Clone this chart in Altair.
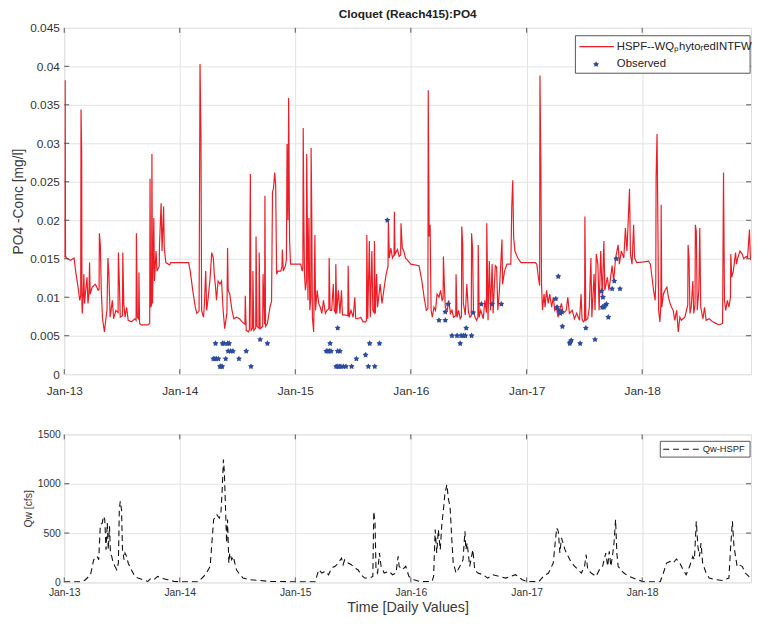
import altair as alt
import pandas as pd

# ---------------- data ----------------
# day offsets from 2013-01-01 and simulated PO4 (in 1e-3 mg/l)
po4_days = [0, 2, 3, 4, 10, 20, 31, 36, 45, 49, 52, 53, 55, 56, 57, 60, 62, 64, 68, 72, 75, 78, 80, 82, 88, 98, 104, 107, 110, 111, 114, 117, 121, 127, 131, 135, 138, 141, 145, 152, 156, 163, 170, 171, 174, 177, 184, 185, 188, 192, 197, 202, 212, 223, 227, 228, 231, 235, 236, 238, 244, 254, 264, 270, 271, 273, 276, 277, 279, 283, 285, 290, 293, 300, 301, 306, 309, 314, 316, 321, 333, 336, 350,
            365, 393, 398, 406, 414, 419, 426, 429, 432, 434, 440, 443, 447, 450, 455, 461, 466, 471, 474, 478, 481, 486, 492, 497, 502, 507, 514, 516, 518, 523, 530, 536, 544, 554, 562, 571, 572, 575, 582, 585, 586, 588, 590, 595, 596, 599, 605, 606, 609, 615, 616, 619, 627, 628, 633, 634, 636, 642, 650, 655, 658, 661, 665, 668, 671, 675, 684, 688, 689, 692, 699, 702, 704, 707, 709, 712, 715, 725,
            740, 747, 752, 754, 755, 757, 759, 762, 765, 766, 768, 770, 773, 776, 779, 780, 782, 784, 788, 792, 794, 799, 804, 809, 814, 819, 825, 830, 836, 837, 840, 845, 850, 853, 857, 858, 861, 866, 871, 876, 879, 887, 896, 897, 900, 906, 913, 918, 921, 928, 937, 944, 952, 955, 956, 959, 964, 967, 972, 975, 979, 980, 983, 987, 990, 998, 1004, 1011, 1017, 1023, 1024, 1027, 1032, 1037, 1042, 1043, 1045, 1053, 1058, 1063, 1064, 1068, 1073, 1078,
            1085, 1095, 1121, 1130, 1137, 1144, 1149, 1150, 1153, 1156, 1159, 1163, 1168, 1173, 1178, 1184, 1189, 1194, 1197, 1198, 1201, 1204, 1210, 1215, 1220, 1225, 1230, 1237, 1238, 1241, 1246, 1251, 1255, 1256, 1259, 1261, 1267, 1272, 1277, 1282, 1286, 1287, 1290, 1293, 1298, 1303, 1307, 1308, 1311, 1316, 1324, 1329, 1334, 1335, 1339, 1343, 1347, 1352, 1355, 1362, 1366, 1370, 1375, 1383, 1385, 1391, 1399, 1411, 1414, 1417, 1420, 1424, 1433, 1443,
            1460, 1488, 1493, 1498, 1502, 1503, 1506, 1508, 1511, 1516, 1519, 1524, 1529, 1534, 1540, 1545, 1550, 1555, 1560, 1565, 1571, 1576, 1586, 1591, 1596, 1605, 1612, 1619, 1628, 1633, 1636, 1640, 1644, 1645, 1648, 1654, 1659, 1664, 1667, 1674, 1677, 1681, 1686, 1690, 1695, 1700, 1705, 1708, 1716, 1721, 1731, 1736, 1742, 1750, 1754, 1760, 1768, 1773, 1778, 1786, 1789, 1794, 1799, 1802, 1809, 1830,
            1846, 1852, 1857, 1862, 1867, 1869, 1870, 1873, 1875, 1878, 1882, 1885, 1886, 1888, 1893, 1898, 1904, 1909, 1914, 1919, 1924, 1929, 1935, 1940, 1945, 1950, 1955, 1961, 1970, 1971, 1974, 1977, 1981, 1986, 1989, 1993, 1994, 1997, 2000, 2005, 2008, 2011, 2018, 2023, 2028, 2038, 2049, 2059, 2069, 2080, 2083, 2086, 2090, 2095, 2100, 2105, 2106, 2109, 2114, 2121, 2124, 2128, 2135, 2142, 2147, 2155, 2159, 2165, 2168, 2170]
po4_sim = [15.2, 15.3, 38.2, 15.3, 15.0, 14.8, 15.1, 13.4, 10.9, 9.6, 10.2, 34.4, 29.0, 9.0, 7.9, 10.5, 13.0, 9.2, 11.0, 12.6, 9.2, 10.5, 14.5, 10.4, 11.3, 11.7, 11.2, 10.9, 11.0, 18.3, 16.8, 10.9, 7.2, 5.5, 7.0, 8.3, 15.1, 13.0, 7.4, 9.6, 7.2, 8.3, 8.0, 15.8, 12.1, 7.4, 7.6, 15.8, 9.2, 7.4, 8.7, 7.0, 6.8, 7.2, 7.0, 18.3, 7.4, 7.2, 13.2, 6.6, 6.4, 6.4, 6.4, 6.6, 25.4, 8.7, 9.0, 28.6, 9.2, 20.3, 12.1, 16.0, 13.4, 14.0, 16.8, 22.2, 16.0, 21.8, 16.4, 14.5, 14.2, 14.5, 14.5,
           14.5, 14.5, 13.4, 10.9, 8.7, 7.9, 8.2, 40.3, 30.7, 8.3, 7.4, 9.2, 13.4, 8.3, 10.0, 12.6, 15.8, 15.1, 13.0, 11.3, 9.6, 12.1, 11.7, 12.1, 8.3, 5.9, 8.0, 16.4, 10.9, 10.4, 8.3, 7.2, 7.4, 7.2, 6.8, 6.5, 10.2, 5.7, 5.5, 5.8, 13.2, 26.0, 5.7, 6.0, 13.4, 5.7, 6.0, 17.9, 6.2, 6.0, 15.8, 5.9, 6.2, 13.0, 6.5, 23.2, 6.2, 6.6, 8.7, 9.5, 23.7, 24.1, 26.2, 24.5, 13.0, 13.4, 13.4, 14.0, 16.2, 13.4, 14.1, 15.0, 29.9, 20.0, 35.9, 17.3, 14.3, 14.3,
           14.3, 14.3, 13.4, 14.0, 32.0, 21.1, 13.0, 10.9, 12.0, 28.6, 20.3, 9.6, 20.3, 8.3, 10.0, 29.4, 21.1, 7.4, 5.5, 18.1, 8.3, 10.9, 9.2, 8.7, 7.9, 9.6, 7.9, 8.3, 8.5, 15.1, 8.3, 8.3, 11.7, 8.3, 8.0, 14.3, 7.9, 10.9, 7.9, 10.9, 7.7, 7.7, 7.6, 14.1, 7.4, 8.3, 7.4, 10.0, 7.2, 7.2, 7.4, 6.8, 6.8, 7.0, 18.1, 7.2, 17.3, 7.4, 16.0, 8.3, 8.0, 17.3, 7.9, 13.0, 8.7, 11.7, 9.2, 11.3, 13.0, 14.0, 20.0, 15.1, 16.4, 15.1, 15.5, 21.1, 15.6, 16.2, 15.3, 15.5, 19.6, 16.4, 16.0, 15.1,
           14.8, 14.3, 14.1, 12.1, 10.0, 8.3, 8.5, 36.9, 17.9, 19.4, 8.3, 7.4, 8.7, 8.3, 10.4, 10.0, 10.9, 9.6, 9.8, 15.3, 11.7, 8.7, 8.3, 9.6, 7.9, 8.3, 7.4, 7.6, 13.0, 7.4, 8.3, 7.2, 7.5, 19.2, 16.8, 9.2, 7.7, 11.7, 8.1, 7.4, 7.6, 18.3, 16.4, 8.3, 7.4, 7.0, 7.4, 16.8, 7.4, 8.3, 7.2, 9.6, 8.0, 19.6, 7.0, 14.7, 8.3, 14.3, 7.9, 14.1, 13.9, 8.3, 10.9, 17.5, 11.7, 13.4, 14.3, 14.3, 21.8, 25.2, 17.7, 16.0, 15.1, 14.5,
           14.5, 14.5, 14.3, 12.6, 11.5, 38.8, 26.7, 11.7, 8.3, 10.4, 8.7, 10.9, 9.2, 10.4, 8.7, 10.0, 8.3, 8.7, 7.4, 8.3, 9.2, 7.9, 8.3, 10.0, 7.9, 8.3, 7.2, 7.9, 7.0, 10.4, 7.2, 6.8, 7.0, 20.5, 7.0, 7.2, 8.7, 15.1, 7.4, 13.0, 8.3, 15.6, 14.3, 8.3, 16.0, 10.0, 17.3, 10.9, 12.6, 10.9, 14.1, 12.1, 15.1, 16.8, 14.3, 16.0, 15.1, 19.0, 16.0, 24.1, 15.6, 14.3, 19.4, 15.1, 14.5, 14.6,
           14.7, 14.3, 12.6, 10.9, 9.6, 12.0, 25.6, 31.2, 22.2, 8.3, 6.8, 9.0, 22.0, 8.7, 10.4, 10.9, 11.3, 10.0, 9.2, 8.7, 8.3, 7.0, 8.3, 5.5, 7.4, 7.0, 7.2, 7.4, 9.0, 16.8, 15.1, 7.9, 8.7, 12.1, 7.9, 9.0, 19.4, 18.6, 8.3, 10.9, 19.0, 8.7, 7.2, 8.7, 7.0, 7.2, 6.8, 6.6, 6.4, 6.6, 26.2, 9.6, 8.3, 9.6, 8.7, 10.0, 15.6, 12.6, 13.4, 15.8, 14.3, 15.1, 16.0, 15.6, 15.0, 15.3, 15.1, 18.8, 15.0, 14.8]

obs_days = [471, 476, 478, 481, 487, 492, 495, 499, 500, 505, 510, 516, 518, 521, 526, 533, 552, 575, 590, 619, 642,
            828, 833, 838, 840, 843, 859, 864, 864, 864, 869, 871, 874, 882, 890, 908, 923, 952, 961, 965, 981, 996, 1021,
            1184, 1204, 1204, 1213, 1225, 1241, 1251, 1254, 1261, 1267, 1270, 1287, 1292, 1318, 1352, 1381,
            1553, 1557, 1561, 1563, 1567, 1572, 1574, 1597, 1599, 1602, 1630, 1648, 1677, 1698, 1700, 1702, 1705, 1708, 1713, 1719, 1731, 1738, 1744, 1756]
obs_val = [2, 2, 4, 2, 2, 1, 1, 1, 4, 4, 2, 4, 3, 4, 3, 3, 2, 3, 1, 4.5, 4,
           3, 3, 3, 4, 3, 1, 6, 3, 1, 1, 3, 1, 1, 1, 1, 2, 2.5, 1, 4, 1, 4, 20,
           7, 7, 8.1, 9.1, 5, 5, 4, 5, 5, 5, 6, 5, 8, 9.1, 9.1, 9.1,
           9.8, 8.7, 12.7, 8.3, 7.9, 8.1, 6.2, 4.0, 4.2, 4.4, 4.0, 6.0, 4.5, 10.8, 8.7, 10.0, 8.7, 8.9, 9.1, 7.4, 11.1, 12.1, 15.0, 11.1]

qw_days = [0, 30, 57, 67, 83, 93, 104, 109, 114, 120, 124, 128, 132, 136, 139, 143, 146, 150, 155, 160, 166, 171, 174, 177, 181, 184, 189, 192, 197, 202, 207, 212, 223, 233, 249, 264, 275, 285, 295, 306, 327, 348, 363,
           425, 435, 446, 461, 472, 482, 490, 495, 499, 503, 506, 509, 513, 516, 520, 523, 529, 534, 539, 544, 555, 565, 586, 617, 648, 679, 710, 731,
           793, 804, 814, 824, 835, 845, 856, 866, 876, 881, 886, 897, 907, 918, 928, 938, 949, 964, 975, 978, 982, 985, 990, 996, 1001, 1011, 1027, 1037, 1048, 1055, 1058, 1068, 1079, 1089, 1105, 1126, 1162,
           1167, 1172, 1177, 1182, 1188, 1193, 1198, 1203, 1209, 1214, 1219, 1224, 1229, 1238, 1250, 1260, 1266, 1269, 1273, 1281, 1291, 1297, 1307, 1323, 1338, 1354, 1374, 1395, 1426, 1447,
           1462, 1499, 1514, 1530, 1545, 1551, 1556, 1561, 1566, 1571, 1576, 1582, 1592, 1603, 1613, 1623, 1634, 1644, 1649, 1654, 1665, 1680, 1691, 1701, 1711, 1717, 1722, 1727, 1732, 1737, 1742, 1746, 1750, 1758, 1768, 1784, 1810,
           1831, 1883, 1893, 1903, 1914, 1924, 1934, 1945, 1955, 1965, 1976, 1986, 1991, 1997, 2002, 2007, 2012, 2017, 2028, 2038, 2059, 2080, 2100, 2105, 2111, 2116, 2121, 2126, 2131, 2142, 2152, 2168]
qw_cfs = [7, 7, 7, 27, 78, 230, 264, 230, 586, 600, 670, 637, 332, 603, 332, 569, 298, 264, 196, 163, 129, 196, 738, 823, 738, 332, 230, 298, 264, 196, 163, 129, 61, 44, 27, 10, 44, 34, 61, 44, 27, 10, 7,
          7, 44, 78, 163, 637, 687, 653, 704, 941, 1246, 1111, 806, 400, 637, 196, 298, 230, 264, 196, 129, 78, 44, 27, 20, 10, 10, 7, 7,
          7, 129, 95, 112, 78, 146, 163, 196, 247, 180, 230, 196, 180, 146, 129, 78, 44, 44, 61, 721, 603, 129, 95, 298, 163, 95, 112, 78, 95, 264, 163, 129, 163, 61, 27, 7, 10,
          61, 535, 298, 535, 332, 586, 738, 907, 992, 840, 772, 467, 196, 95, 163, 230, 518, 332, 400, 163, 332, 129, 95, 78, 44, 78, 61, 44, 78, 27,
          10, 7, 61, 95, 196, 400, 552, 518, 298, 450, 400, 332, 264, 196, 163, 129, 95, 163, 281, 129, 95, 61, 129, 163, 298, 163, 315, 163, 264, 400, 637, 298, 163, 129, 95, 61, 27,
          7, 7, 95, 196, 213, 196, 237, 196, 129, 78, 163, 264, 230, 620, 366, 264, 400, 196, 95, 44, 27, 20, 44, 332, 620, 366, 264, 163, 180, 163, 95, 44]

tick_years = [2013, 2014, 2015, 2016, 2017, 2018]
po4_ticks = [0, 0.005, 0.01, 0.015, 0.02, 0.025, 0.03, 0.035, 0.04, 0.045]
qw_ticks = [0, 500, 1000, 1500]

title_text = "Cloquet (Reach415):PO4"
sim_label = "HSPF--WQ\u209ahyto\u1d63edINTFW"
obs_label = "Observed"
qw_label = "Qw-HSPF"

# ---------------- frames ----------------
start = pd.Timestamp("2013-01-01")


def to_dates(days):
    return [start + pd.Timedelta(days=d) for d in days]


po4_df = pd.DataFrame({"date": to_dates(po4_days), "po4": [v / 1000 for v in po4_sim]})
obs_df = pd.DataFrame({"date": to_dates(obs_days), "po4": [v / 1000 for v in obs_val]})
qw_df = pd.DataFrame({"date": to_dates(qw_days), "qw": qw_cfs})
xt_df = pd.DataFrame({"date": [pd.Timestamp(f"{y}-01-01") for y in tick_years]})
yt_po4 = pd.DataFrame({"po4": po4_ticks[1:-1]})
yt_qw = pd.DataFrame({"qw": qw_ticks[1:-1]})

RED = "#ee1d25"
BLUE = "#2d4c9f"
FONT = "Liberation Sans"
TXT = "#333333"
STAR = ("M0,-1L0.323,-0.445L0.951,-0.309L0.523,0.170L0.588,0.809L0,0.55"
        "L-0.588,0.809L-0.523,0.170L-0.951,-0.309L-0.323,-0.445Z")

W, H1, H2 = 696, 351, 150

xscale = alt.Scale(domain=[alt.DateTime(year=2013, month=1, date=1),
                           alt.DateTime(year=2018, month=12, date=11)], nice=False)
yscale_top = alt.Scale(domain=[0, 0.045], nice=False, zero=False)
yscale_bot = alt.Scale(domain=[0, 1500], nice=False)
xvals = [alt.DateTime(year=y, month=1, date=1) for y in tick_years]
one = alt.Data(values=[{}])


def xaxis(size, pad, title=None, tsize=14):
    kw = dict(values=xvals, format="%b-%y", labelFontSize=size, labelFont=FONT,
              labelColor=TXT, ticks=False, labelPadding=pad, domain=False,
              gridColor="#e3e3e3", labelFlush=False, labelOverlap=False)
    if title:
        kw.update(title=title, titleFontSize=tsize, titleFont=FONT, titleColor="#3a3a3a",
                  titleFontWeight="normal", titlePadding=3)
    else:
        kw.update(title=None)
    return alt.Axis(**kw)


xaxis_top = xaxis(12, 12)
xaxis_bot = xaxis(10.5, 5, "Time [Daily Values]", 14.5)
yaxis_top = alt.Axis(values=po4_ticks, format="~g", labelFontSize=12, labelFont=FONT,
                     labelColor=TXT, ticks=False, labelPadding=5, domain=False,
                     labelOverlap=False, labelFlush=False, tickCount=10,
                     gridColor="#e3e3e3", title="PO4 -Conc [mg/l]", titleFontSize=14,
                     titleFont=FONT, titleColor="#3a3a3a", titleFontWeight="normal",
                     titlePadding=4)
yaxis_bot = alt.Axis(values=qw_ticks, format="d", labelFontSize=10.5, labelFont=FONT,
                     labelColor=TXT, ticks=False, labelPadding=4, domain=False,
                     labelOverlap=False, labelFlush=False,
                     gridColor="#e3e3e3", title="Qw [cfs]", titleFontSize=10.5,
                     titleFont=FONT, titleColor="#3a3a3a", titleFontWeight="normal",
                     titlePadding=4)

XT = alt.X("date:T", scale=xscale, axis=xaxis_top)
YT = alt.Y("po4:Q", scale=yscale_top, axis=yaxis_top)
XB = alt.X("date:T", scale=xscale, axis=xaxis_bot)
YB = alt.Y("qw:Q", scale=yscale_bot, axis=yaxis_bot)

# ---------------- top panel ----------------
line = alt.Chart(po4_df).mark_line(color=RED, strokeWidth=1.2, clip=True).encode(x=XT, y=YT)
pts = alt.Chart(obs_df).mark_point(shape=STAR, filled=True, size=40, color=BLUE, opacity=1).encode(
    x=XT, y=YT)

xt_top = alt.Chart(xt_df).mark_rule(color="#555", strokeWidth=1).encode(
    x=XT, y=alt.value(0), y2=alt.value(5))
xt_bot = alt.Chart(xt_df).mark_rule(color="#555", strokeWidth=1).encode(
    x=XT, y=alt.value(H1 - 5), y2=alt.value(H1))
yt_l = alt.Chart(yt_po4).mark_rule(color="#555", strokeWidth=1).encode(
    y=YT, x=alt.value(0), x2=alt.value(5))
yt_r = alt.Chart(yt_po4).mark_rule(color="#555", strokeWidth=1).encode(
    y=YT, x=alt.value(W - 5), x2=alt.value(W))

title_mark = alt.Chart(one).mark_text(align="center", baseline="middle", fontSize=12, font=FONT,
                                      fontWeight="bold", color="#222").encode(
    x=alt.value(W / 2), y=alt.value(-14), text=alt.value(title_text))

leg_box = alt.Chart(one).mark_rect(fill="white", stroke="#555", strokeWidth=1).encode(
    x=alt.value(518), x2=alt.value(695), y=alt.value(8), y2=alt.value(46))
leg_line = alt.Chart(one).mark_rule(color=RED, strokeWidth=1.2).encode(
    x=alt.value(522), x2=alt.value(557), y=alt.value(19))
leg_t1 = alt.Chart(one).mark_text(align="left", baseline="middle", fontSize=11.5, font=FONT,
                                  color="#222").encode(
    x=alt.value(560), y=alt.value(19), text=alt.value(sim_label))
leg_pt = alt.Chart(one).mark_point(shape=STAR, filled=True, size=40, color=BLUE, opacity=1).encode(
    x=alt.value(539), y=alt.value(37))
leg_t2 = alt.Chart(one).mark_text(align="left", baseline="middle", fontSize=11.5, font=FONT,
                                  color="#222").encode(
    x=alt.value(560), y=alt.value(37), text=alt.value(obs_label))

top = alt.layer(line, pts, xt_top, xt_bot, yt_l, yt_r, title_mark,
                leg_box, leg_line, leg_t1, leg_pt, leg_t2).properties(width=W, height=H1)

# ---------------- bottom panel ----------------
qline = alt.Chart(qw_df).mark_line(color="#111", strokeWidth=1.1, strokeDash=[6, 4], clip=True).encode(
    x=XB, y=YB)
qxt_top = alt.Chart(xt_df).mark_rule(color="#555", strokeWidth=1).encode(
    x=XB, y=alt.value(0), y2=alt.value(5))
qxt_bot = alt.Chart(xt_df).mark_rule(color="#555", strokeWidth=1).encode(
    x=XB, y=alt.value(H2 - 5), y2=alt.value(H2))
qyt_l = alt.Chart(yt_qw).mark_rule(color="#555", strokeWidth=1).encode(
    y=YB, x=alt.value(0), x2=alt.value(5))
qyt_r = alt.Chart(yt_qw).mark_rule(color="#555", strokeWidth=1).encode(
    y=YB, x=alt.value(W - 5), x2=alt.value(W))
q_box = alt.Chart(one).mark_rect(fill="white", stroke="#555", strokeWidth=1).encode(
    x=alt.value(604), x2=alt.value(695), y=alt.value(7), y2=alt.value(23))
q_line = alt.Chart(one).mark_rule(color="#111", strokeWidth=1.1, strokeDash=[6, 4]).encode(
    x=alt.value(607), x2=alt.value(645), y=alt.value(15))
q_t = alt.Chart(one).mark_text(align="left", baseline="middle", fontSize=9.5, font=FONT,
                               color="#222").encode(
    x=alt.value(647), y=alt.value(15), text=alt.value(qw_label))

bottom = alt.layer(qline, qxt_top, qxt_bot, qyt_l, qyt_r, q_box, q_line, q_t).properties(
    width=W, height=H2)

chart = alt.vconcat(top, bottom, spacing=31).properties(
    padding={"left": 3, "top": -5, "right": 2, "bottom": 2}
).configure_view(stroke="#666", strokeWidth=1).configure(background="white")

chart.save("out.html", embed_options={"renderer": "svg", "actions": False})
